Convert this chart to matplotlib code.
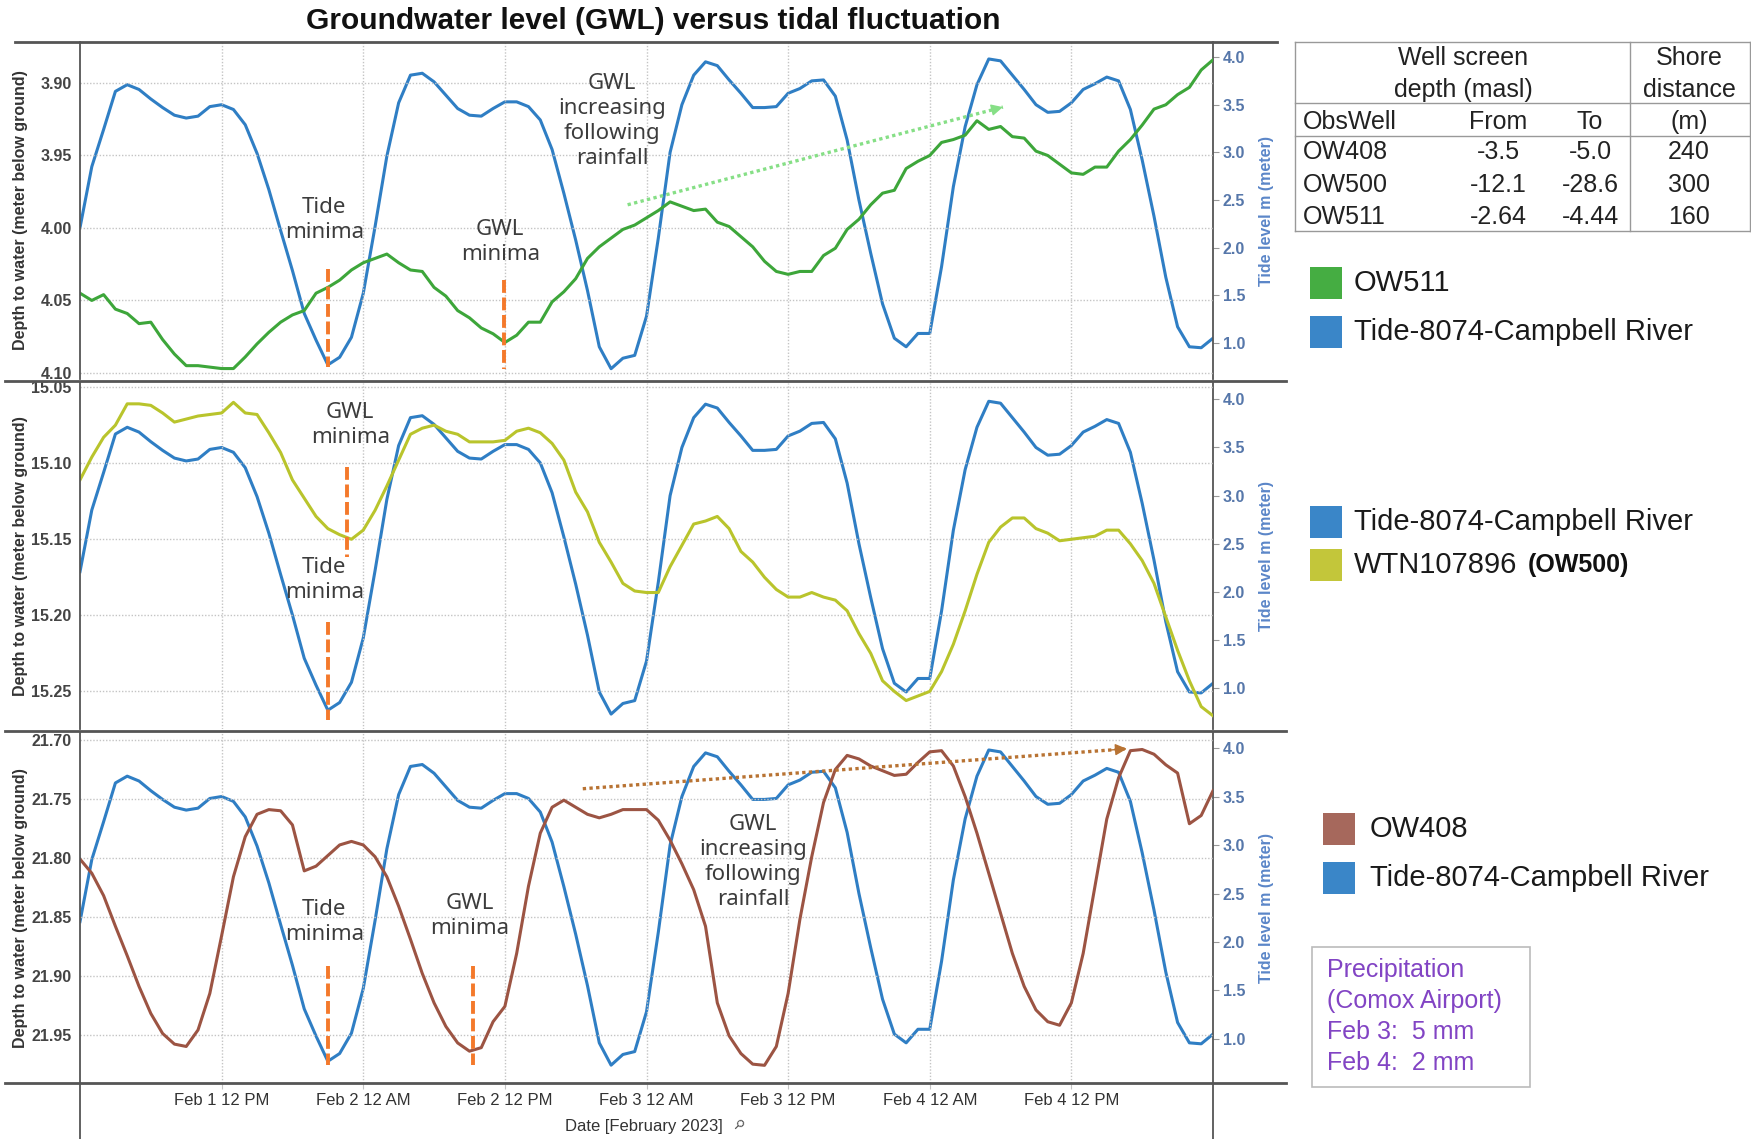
import numpy as np
import matplotlib
matplotlib.use('Agg')
import matplotlib.pyplot as plt
from matplotlib.lines import Line2D
from matplotlib.patches import Rectangle
from matplotlib.ticker import FormatStrFormatter

plt.rcParams['font.family'] = ['Liberation Sans', 'DejaVu Sans']

W, H = 1751, 1139

# hourly readings, Feb 1 00:00 -> Feb 5 00:00
hours = np.arange(97)

tide = [2.21, 2.85, 3.24, 3.64, 3.71, 3.66, 3.56, 3.47, 3.39, 3.36,
        3.38, 3.48, 3.50, 3.45, 3.29, 2.99, 2.61, 2.18, 1.76, 1.31,
        1.03, 0.77, 0.85, 1.06, 1.52, 2.22, 2.96, 3.52, 3.81, 3.83,
        3.74, 3.60, 3.46, 3.39, 3.38, 3.46, 3.53, 3.53, 3.48, 3.34,
        3.03, 2.57, 2.08, 1.55, 0.96, 0.73, 0.84, 0.87, 1.28, 2.10,
        3.00, 3.50, 3.81, 3.95, 3.91, 3.76, 3.62, 3.47, 3.47, 3.48,
        3.62, 3.67, 3.75, 3.76, 3.59, 3.13, 2.50, 1.94, 1.41, 1.05,
        0.96, 1.10, 1.10, 1.80, 2.64, 3.27, 3.71, 3.98, 3.96, 3.81,
        3.66, 3.50, 3.42, 3.43, 3.52, 3.66, 3.72, 3.79, 3.75, 3.45,
        2.92, 2.33, 1.69, 1.17, 0.96, 0.95, 1.05]

ow511 = [4.045, 4.050, 4.046, 4.056, 4.059, 4.066, 4.065, 4.077, 4.087, 4.095,
         4.095, 4.096, 4.097, 4.097, 4.089, 4.080, 4.072, 4.065, 4.060, 4.057,
         4.045, 4.041, 4.036, 4.029, 4.024, 4.021, 4.018, 4.024, 4.029, 4.030,
         4.041, 4.047, 4.057, 4.062, 4.069, 4.073, 4.079, 4.074, 4.065, 4.065,
         4.051, 4.044, 4.035, 4.021, 4.013, 4.007, 4.001, 3.998, 3.993, 3.988,
         3.982, 3.985, 3.988, 3.987, 3.996, 3.999, 4.006, 4.013, 4.023, 4.030,
         4.032, 4.030, 4.030, 4.019, 4.014, 4.001, 3.994, 3.984, 3.976, 3.974,
         3.959, 3.954, 3.950, 3.941, 3.939, 3.936, 3.926, 3.932, 3.930, 3.937,
         3.938, 3.947, 3.950, 3.956, 3.962, 3.963, 3.958, 3.958, 3.947, 3.939,
         3.929, 3.918, 3.915, 3.908, 3.903, 3.891, 3.884]

wtn107896 = [15.111, 15.096, 15.083, 15.075, 15.061, 15.061, 15.062, 15.067, 15.073, 15.071,
             15.069, 15.068, 15.067, 15.060, 15.067, 15.068, 15.080, 15.093, 15.111, 15.123,
             15.135, 15.143, 15.147, 15.150, 15.144, 15.131, 15.115, 15.098, 15.081, 15.077,
             15.075, 15.079, 15.081, 15.086, 15.086, 15.086, 15.085, 15.079, 15.077, 15.080,
             15.087, 15.098, 15.119, 15.132, 15.152, 15.165, 15.179, 15.184, 15.185, 15.185,
             15.168, 15.154, 15.140, 15.138, 15.135, 15.143, 15.158, 15.165, 15.175, 15.183,
             15.188, 15.188, 15.185, 15.188, 15.190, 15.197, 15.212, 15.225, 15.243, 15.250,
             15.256, 15.253, 15.250, 15.237, 15.219, 15.197, 15.173, 15.152, 15.142, 15.136,
             15.136, 15.143, 15.146, 15.151, 15.150, 15.149, 15.148, 15.144, 15.144, 15.153,
             15.164, 15.179, 15.201, 15.223, 15.243, 15.260, 15.266]

ow408 = [21.801, 21.813, 21.832, 21.858, 21.883, 21.909, 21.932, 21.949, 21.958, 21.960,
         21.946, 21.915, 21.866, 21.816, 21.782, 21.763, 21.759, 21.760, 21.772, 21.811,
         21.807, 21.798, 21.789, 21.786, 21.789, 21.799, 21.816, 21.841, 21.869, 21.898,
         21.923, 21.943, 21.957, 21.964, 21.961, 21.939, 21.926, 21.881, 21.824, 21.779,
         21.757, 21.751, 21.757, 21.763, 21.766, 21.763, 21.759, 21.759, 21.759, 21.768,
         21.785, 21.805, 21.827, 21.858, 21.923, 21.951, 21.966, 21.975, 21.976, 21.960,
         21.915, 21.852, 21.799, 21.753, 21.725, 21.713, 21.716, 21.722, 21.726, 21.730,
         21.729, 21.719, 21.710, 21.709, 21.722, 21.748, 21.779, 21.813, 21.847, 21.881,
         21.909, 21.929, 21.939, 21.942, 21.923, 21.881, 21.824, 21.767, 21.732, 21.709,
         21.708, 21.712, 21.721, 21.728, 21.771, 21.764, 21.743]

tick_hours = [12, 24, 36, 48, 60, 72, 84]
tick_labels = ['Feb 1 12 PM', 'Feb 2 12 AM', 'Feb 2 12 PM', 'Feb 3 12 AM',
               'Feb 3 12 PM', 'Feb 4 12 AM', 'Feb 4 12 PM']

ow511_ticks = [3.90, 3.95, 4.00, 4.05, 4.10]
ow500_ticks = [15.05, 15.10, 15.15, 15.20, 15.25]
ow408_ticks = [21.70, 21.75, 21.80, 21.85, 21.90, 21.95]
tide_ticks = [1.0, 1.5, 2.0, 2.5, 3.0, 3.5, 4.0]

table_wells = ['OW408', 'OW500', 'OW511']
table_from = ['-3.5', '-12.1', '-2.64']
table_to = ['-5.0', '-28.6', '-4.44']
table_shore = ['240', '300', '160']
precip_lines = ['Precipitation', '(Comox Airport)', 'Feb 3:  5 mm', 'Feb 4:  2 mm']

c_tide = '#2f7ec4'
c_511 = '#3da63a'
c_500 = '#b9c42c'
c_408 = '#9c5443'
c_mark = '#f4792b'
c_note = '#3c3c3c'


def frect(x0, y0, x1, y1):
    return [x0 / W, 1 - y1 / H, (x1 - x0) / W, (y1 - y0) / H]


def fx(x):
    return x / W


def fy(y):
    return 1 - y / H


fig = plt.figure(figsize=(W / 100, H / 100), dpi=100)


def make_panel(box, gwl, color, ylim, yticks, tlim, bottom=False):
    ax = fig.add_axes(frect(*box))
    axt = ax.twinx()
    ax.set_zorder(axt.get_zorder() + 1)
    ax.patch.set_visible(False)

    axt.plot(hours, tide, color=c_tide, lw=2.2)
    ax.plot(hours, gwl, color=color, lw=2.2)

    ax.set_xlim(0, 96)
    ax.set_ylim(*ylim)
    axt.set_ylim(*tlim)
    ax.set_xticks(tick_hours)
    ax.set_yticks(yticks)
    axt.set_yticks(tide_ticks)
    ax.yaxis.set_major_formatter(FormatStrFormatter('%.2f'))
    axt.yaxis.set_major_formatter(FormatStrFormatter('%.1f'))
    ax.grid(True, color='#c4c4c4', linestyle=(0, (1, 1.3)), lw=1.0)

    for a in (ax, axt):
        for s in a.spines.values():
            s.set_visible(False)
    ax.spines['left'].set_visible(True)
    ax.spines['left'].set_color('#555555')
    ax.spines['left'].set_linewidth(1.3)
    axt.spines['right'].set_visible(True)
    axt.spines['right'].set_color('#555555')
    axt.spines['right'].set_linewidth(1.3)

    ax.tick_params(axis='y', length=0, pad=6, labelsize=11.5, labelcolor='#444444')
    axt.tick_params(axis='y', length=4, color='#999999', pad=3, labelsize=11.5,
                    labelcolor='#5677aa')
    for lab in ax.get_yticklabels() + axt.get_yticklabels():
        lab.set_fontweight('bold')
    if bottom:
        ax.tick_params(axis='x', length=4, color='#c4c4c4', pad=3.5, labelsize=12,
                       labelcolor='#333333')
        ax.set_xticklabels(tick_labels)
    else:
        ax.tick_params(axis='x', length=0, labelbottom=False)

    yc = (box[1] + box[3]) / 2
    fig.text(fx(21), fy(yc), 'Depth to water (meter below ground)', rotation=90,
             ha='center', va='center', fontsize=11.5, fontweight='bold', color='#333333')
    fig.text(fx(1266), fy(yc), 'Tide level m (meter)', rotation=90,
             ha='center', va='center', fontsize=11.5, fontweight='bold', color='#5b86c8')
    return ax


def note(ax, x, y, s):
    ax.text(x, y, s, ha='center', va='center', fontsize=16, color=c_note,
            family=['Noto Sans', 'DejaVu Sans'], linespacing=1.25, zorder=10)


def mark(ax, x, y0, y1):
    ax.plot([x, x], [y0, y1], color=c_mark, lw=2.8, dashes=(3.3, 1.2), zorder=9)


def trend(ax, p0, p1, color):
    ax.plot([p0[0], p1[0]], [p0[1], p1[1]], color=color, lw=2.4, dashes=(1, 1),
            zorder=9)
    back = (p1[0] - 0.03 * (p1[0] - p0[0]), p1[1] - 0.03 * (p1[1] - p0[1]))
    ax.annotate('', xy=p1, xytext=back, zorder=9,
                arrowprops=dict(arrowstyle='-|>,head_length=0.7,head_width=0.35',
                                color=color, lw=1, shrinkA=0, shrinkB=0))


ax1 = make_panel((80, 42, 1213, 379), ow511, c_511, (4.1042, 3.8717), ow511_ticks,
                 (0.622, 4.158))
ax2 = make_panel((80, 383, 1213, 729), wtn107896, c_500, (15.2747, 15.0473), ow500_ticks,
                 (0.575, 4.170))
ax3 = make_panel((80, 733, 1213, 1083), ow408, c_408, (21.991, 21.694), ow408_ticks,
                 (0.546, 4.155), bottom=True)

# annotations panel 1
note(ax1, 20.7, 3.9945, 'Tide\nminima')
mark(ax1, 21.0, 4.028, 4.096)
note(ax1, 35.6, 4.010, 'GWL\nminima')
mark(ax1, 35.9, 4.036, 4.097)
note(ax1, 45.1, 3.9265, 'GWL\nincreasing\nfollowing\nrainfall')
trend(ax1, (46.4, 3.984), (78.2, 3.9166), '#86df86')

# annotations panel 2
note(ax2, 22.9, 15.075, 'GWL\nminima')
mark(ax2, 22.65, 15.1026, 15.1617)
note(ax2, 20.7, 15.1766, 'Tide\nminima')
mark(ax2, 21.0, 15.2044, 15.2685)

# annotations panel 3
note(ax3, 20.7, 21.854, 'Tide\nminima')
mark(ax3, 21.0, 21.892, 21.9755)
note(ax3, 33.0, 21.8495, 'GWL\nminima')
mark(ax3, 33.3, 21.892, 21.9755)
note(ax3, 57.05, 21.8036, 'GWL\nincreasing\nfollowing\nrainfall')
trend(ax3, (42.6, 21.7413), (88.7, 21.7074), '#b87333')


def hline(y, x0, x1, color='#555555', lw=2.0):
    fig.add_artist(Line2D([fx(x0), fx(x1)], [fy(y), fy(y)], transform=fig.transFigure,
                          color=color, lw=lw))


def vline(x, y0, y1, color='#555555', lw=1.3):
    fig.add_artist(Line2D([fx(x), fx(x)], [fy(y0), fy(y1)], transform=fig.transFigure,
                          color=color, lw=lw))


# panel frame lines
hline(42, 15, 1277)
hline(381, 5, 1286)
hline(731, 5, 1286)
hline(1083, 5, 1286)
vline(80, 1083, 1139)
vline(1213, 1083, 1139)

fig.text(fx(653), fy(21), 'Groundwater level (GWL) versus tidal fluctuation',
         ha='center', va='center', fontsize=21.5, fontweight='bold', color='#111111')
fig.text(fx(644), fy(1126), 'Date [February 2023]', ha='center', va='center',
         fontsize=12, color='#333333')
fig.text(fx(738), fy(1125), '\u26b2', ha='center', va='center', fontsize=9,
         color='#555555', rotation=-45, family='DejaVu Sans')

# table
tc = '#999999'
for y in (42, 103, 136, 231):
    hline(y, 1295, 1750, color=tc, lw=1.0)
for x in (1295, 1630, 1750):
    vline(x, 42, 231, color=tc, lw=1.0)
tkw = dict(fontsize=18, color='#222222', va='center')
fig.text(fx(1463), fy(58), 'Well screen', ha='center', **tkw)
fig.text(fx(1463), fy(90), 'depth (masl)', ha='center', **tkw)
fig.text(fx(1689), fy(58), 'Shore', ha='center', **tkw)
fig.text(fx(1689), fy(90), 'distance', ha='center', **tkw)
fig.text(fx(1303), fy(122), 'ObsWell', ha='left', **tkw)
fig.text(fx(1498), fy(122), 'From', ha='center', **tkw)
fig.text(fx(1590), fy(122), 'To', ha='center', **tkw)
fig.text(fx(1689), fy(122), '(m)', ha='center', **tkw)
for i, (w, a, b, d) in enumerate(zip(table_wells, table_from, table_to, table_shore)):
    y = 152 + i * 32.5
    fig.text(fx(1303), fy(y), w, ha='left', **tkw)
    fig.text(fx(1498), fy(y), a, ha='center', **tkw)
    fig.text(fx(1590), fy(y), b, ha='center', **tkw)
    fig.text(fx(1689), fy(y), d, ha='center', **tkw)


def legend_block(entries, x, size, text_x):
    for label, color, yc in entries:
        fig.add_artist(Rectangle((fx(x), fy(yc + size / 2)), size / W, size / H,
                                 transform=fig.transFigure, color=color, lw=0))
        fig.text(fx(text_x), fy(yc), label, ha='left', va='center', fontsize=21,
                 color='#1a1a1a')


legend_block([('OW511', '#45ad42', 283), ('Tide-8074-Campbell River', '#3a86c8', 332)],
             1310, 32, 1354)
legend_block([('Tide-8074-Campbell River', '#3a86c8', 522), ('WTN107896', '#c3c63a', 565)],
             1310, 32, 1354)
fig.text(fx(1528), fy(565), '(OW500)', ha='left', va='center', fontsize=18,
         fontweight='bold', color='#111111')
legend_block([('OW408', '#a6685c', 829), ('Tide-8074-Campbell River', '#3a86c8', 878)],
             1323, 32, 1370)

# precipitation box
fig.add_artist(Rectangle((fx(1312), fy(1087)), (1530 - 1312) / W, (1087 - 947) / H,
                         transform=fig.transFigure, fill=False, edgecolor='#bbbbbb', lw=1.2))
for i, s in enumerate(precip_lines):
    fig.text(fx(1327), fy(970 + i * 31), s, ha='left', va='center', fontsize=18,
             color='#8244c4')

fig.savefig('out.png', dpi=100)
